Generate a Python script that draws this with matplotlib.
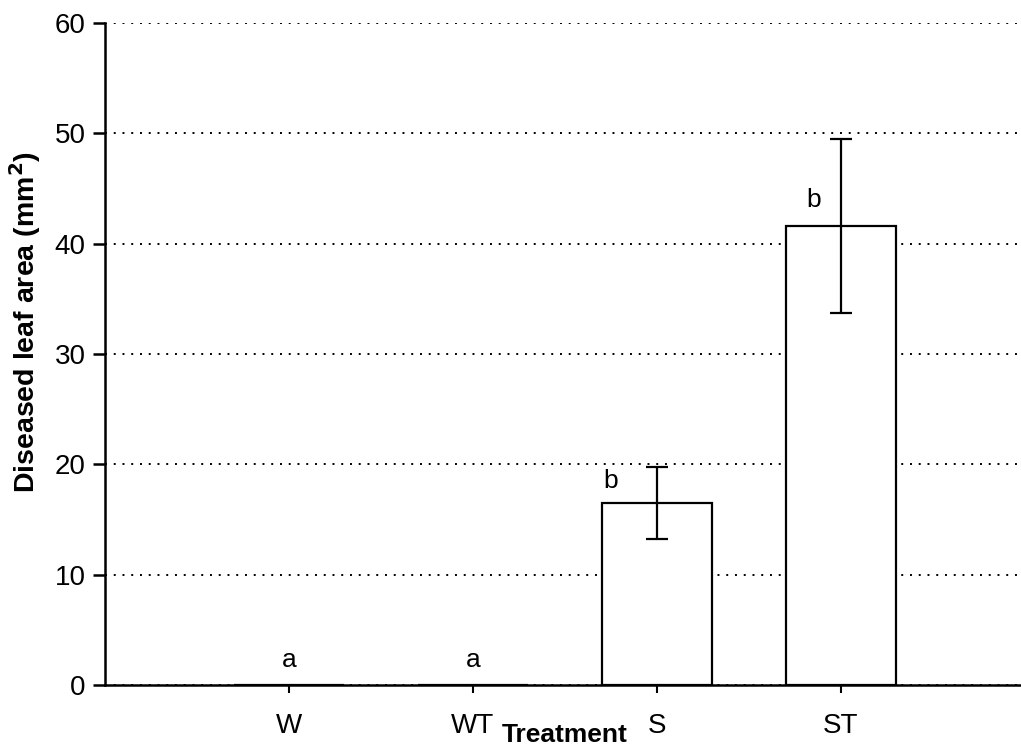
import matplotlib
matplotlib.use('Agg')
import numpy as np
import matplotlib.pyplot as plt

plt.rcParams['font.family'] = ['Liberation Sans', 'DejaVu Sans']

treatments = ['W', 'WT', 'S', 'ST']
area = [0.0, 0.0, 16.5, 41.6]
err = [0.0, 0.0, 3.3, 7.9]
letters = ['a', 'a', 'b', 'b']
letter_y = [1.2, 1.2, 17.4, 42.9]
letter_dx = [0.0, 0.0, -0.25, -0.15]

fig = plt.figure(figsize=(10.21, 7.47), dpi=100)
ax = fig.add_axes([0.103, 0.083, 0.897, 0.886])

x = np.arange(len(treatments))
ax.bar(x, area, width=0.6, color='white', edgecolor='black', linewidth=1.6, zorder=3)
for i in range(len(x)):
    if err[i] > 0:
        ax.errorbar(x[i], area[i], yerr=err[i], fmt='none', ecolor='black',
                    elinewidth=1.6, capsize=8, capthick=1.6, zorder=4)
    ax.text(x[i] + letter_dx[i], letter_y[i], letters[i], ha='center', va='bottom',
            fontsize=19, zorder=5)

ax.set_xlim(-1, 3.98)
ax.set_ylim(0, 60)
ax.set_yticks(range(0, 61, 10))
ax.set_xticks(x)
ax.set_xticklabels(treatments)
ax.yaxis.grid(True, linestyle=(0, (1, 3.5)), color='black', linewidth=1.4, zorder=0)
ax.set_axisbelow(True)

for s in ['top', 'right']:
    ax.spines[s].set_visible(False)
for s in ['left', 'bottom']:
    ax.spines[s].set_linewidth(1.8)
ax.tick_params(axis='y', direction='out', length=9, width=1.8, labelsize=20, pad=5)
ax.tick_params(axis='x', direction='out', length=6, width=1.5, labelsize=20, pad=14)

ax.set_ylabel('Diseased leaf area (mm$^\\mathbf{2}$)', fontsize=20.5, fontweight='bold')
ax.yaxis.set_label_coords(-0.068, 0.548)
fig.text(0.553, 0.0, 'Treatment', fontsize=19, fontweight='bold', ha='center', va='bottom')

fig.savefig('out.png', dpi=100)
